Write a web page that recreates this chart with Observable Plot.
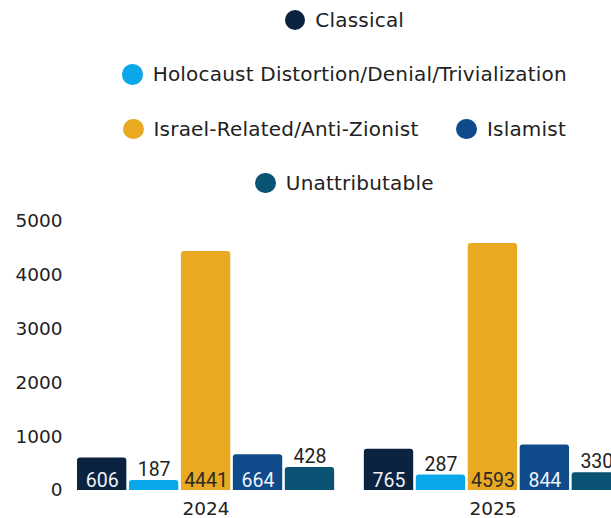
<!DOCTYPE html>
<html>
<head>
<meta charset="utf-8">
<script src="https://cdn.jsdelivr.net/npm/d3@7"></script>
<script src="https://cdn.jsdelivr.net/npm/@observablehq/plot@0.6"></script>
<style>
  html, body { margin: 0; padding: 0; background: #fff; overflow: hidden; }
  #wrap { width: 689px; }
  #legend { height: 210px; margin-top: -7px; padding-bottom: 7px; box-sizing: content-box; }
  .row { display: flex; justify-content: center; align-items: center; height: 54.33px; gap: 38px; }
  .item { display: flex; align-items: center; gap: 10px; font-family: "DejaVu Sans", sans-serif; font-size: 20px; letter-spacing: 0.2px; color: #222; white-space: nowrap; }
  .sw { width: 20.5px; height: 20.5px; border-radius: 50%; flex: none; }
</style>
</head>
<body>
<div id="wrap">
  <div id="legend"></div>
  <div id="chart"></div>
</div>
<script>
const years = ["2024", "2025"];
const categories = ["Classical", "Holocaust Distortion/Denial/Trivialization", "Israel-Related/Anti-Zionist", "Islamist", "Unattributable"];
const colors = ["#0b2240", "#0aa7ea", "#e9a920", "#0f4b8a", "#0a5374"];
const values2024 = [606, 187, 4441, 664, 428];
const values2025 = [765, 287, 4593, 844, 330];
const yTicks = [0, 1000, 2000, 3000, 4000, 5000];
const legendRows = [[0], [1], [2, 3], [4]];

// legend
const legend = document.getElementById("legend");
for (const row of legendRows) {
  const r = document.createElement("div");
  r.className = "row";
  for (const i of row) {
    const it = document.createElement("div");
    it.className = "item";
    const sw = document.createElement("span");
    sw.className = "sw";
    sw.style.background = colors[i];
    const t = document.createElement("span");
    t.textContent = categories[i];
    it.append(sw, t);
    r.append(it);
  }
  legend.append(r);
}

const data = [];
years.forEach((y, yi) => {
  const vals = yi === 0 ? values2024 : values2025;
  categories.forEach((c, ci) => data.push({year: y, category: c, value: vals[ci]}));
});
const inside = data.filter(d => d.value >= 500);
const outside = data.filter(d => d.value < 500);

const chart = Plot.plot({
  width: 689,
  height: 308,
  marginTop: 11,
  marginBottom: 28,
  marginLeft: 77,
  marginRight: 68,
  style: {fontFamily: "DejaVu Sans, sans-serif", fontSize: "18.5px", color: "#222", background: "#fff"},
  fx: {domain: years, paddingInner: 0.1035, paddingOuter: 0, round: false, label: null},
  x: {domain: categories, paddingInner: 0.05, paddingOuter: 0, round: false, axis: null},
  y: {domain: [0, 5000], axis: null},
  color: {domain: categories, range: colors},
  marks: [
    Plot.ruleY(yTicks, {fx: () => null, stroke: "#e2e2e2", strokeWidth: 1.2, insetRight: -40}),
    Plot.barY(data, {fx: "year", x: "category", y: "value", fill: "category", ry1: 3}),
    Plot.text(inside, {fx: "year", x: "category", y: 0, text: d => String(d.value), dy: -10, lineAnchor: "middle",
      fill: d => d.category.startsWith("Israel") ? "#2a2a2a" : "#eef3f8", fontFamily: "Roboto, sans-serif", fontSize: 19.5}),
    Plot.text(outside, {fx: "year", x: "category", y: "value", text: d => String(d.value), dy: -10.5, lineAnchor: "middle",
      fill: "#222", fontFamily: "Roboto, sans-serif", fontSize: 19.5}),
    Plot.axisY(yTicks, {tickSize: 0, tickPadding: 15, label: null, fill: "#222", tickFormat: d => String(d)}),
    Plot.axisFx({anchor: "bottom", tickSize: 0, tickPadding: 11, label: null, fill: "#222"})
  ]
});
document.getElementById("chart").append(chart);
</script>
</body>
</html>
